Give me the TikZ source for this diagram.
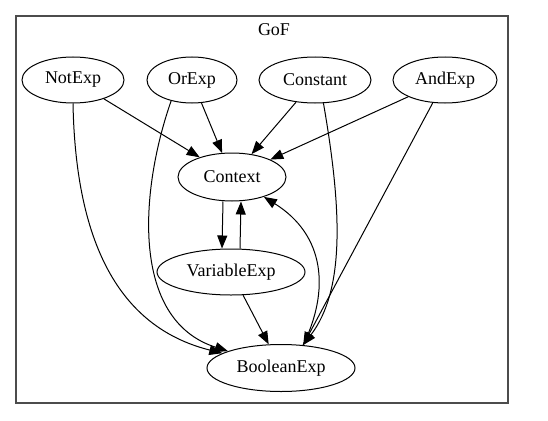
\documentclass[tikz,border=0pt]{standalone}
\usepackage{fontspec}
\setmainfont{Liberation Serif}
\usetikzlibrary{shapes.geometric,arrows.meta}
\begin{document}
\begin{tikzpicture}[x=1pt,y=-1pt,
  cls/.style={draw,ellipse,line width=1pt,inner sep=0pt,minimum height=46pt,font=\fontsize{18pt}{20pt}\selectfont},
  arr/.style={-{Triangle[length=13pt,width=10pt]},line width=1pt}]
\useasboundingbox (0,0) rectangle (548,420);

% cluster
\draw[line width=1.2pt,black!70] (16,16) rectangle (508,403);
\node (gof) at (274,30) {\fontsize{18pt}{20pt}\selectfont GoF};

% classes
\node[cls,minimum width=102pt] (notexp) at (73,80) {NotExp};
\node[cls,minimum width=90pt] (orexp) at (192,80) {OrExp};
\node[cls,minimum width=112pt] (constant) at (315,80) {Constant};
\node[cls,minimum width=104pt] (andexp) at (445,80) {AndExp};
\node[cls,minimum width=108pt,minimum height=48pt] (context) at (232,177) {Context};
\node[cls,minimum width=148pt] (varexp) at (231,272) {VariableExp};
\node[cls,minimum width=148pt,minimum height=47pt] (boolexp) at (281,368) {BooleanExp};

% edges to context
\draw[arr] (notexp) -- (context);
\draw[arr] (orexp) -- (context);
\draw[arr] (constant) -- (context);
\draw[arr] (andexp) -- (context);
\draw[arr] ([xshift=-9pt]context.south) -- ([xshift=-9pt]varexp.north);
\draw[arr] ([xshift=9pt]varexp.north) -- ([xshift=9pt]context.south);

% edges to booleanexp
\draw[arr] (varexp) -- (boolexp);
\draw[arr] (notexp.south) .. controls (76,260) and (130,330) .. (boolexp);
\draw[arr] (orexp.225) .. controls (140,190) and (130,320) .. (boolexp);
\draw[arr] (constant.290) .. controls (342,210) and (345,290) .. (boolexp.46);
\draw[arr] (andexp) -- (boolexp.46);
\draw[arr] (boolexp.46) .. controls (330,290) and (325,235) .. (context);

\end{tikzpicture}
\end{document}
